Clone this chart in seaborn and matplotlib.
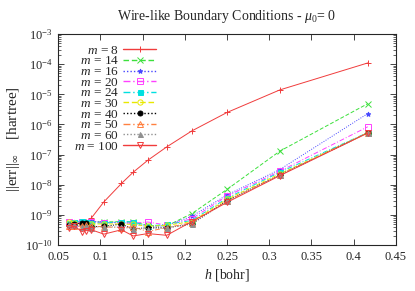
import numpy as np
import pandas as pd
import matplotlib
matplotlib.use("Agg")
import matplotlib.pyplot as plt
import seaborn as sns

# grid spacings [bohr]
h = [0.0625, 0.0694, 0.0781, 0.0833, 0.0893, 0.1042, 0.125, 0.1389,
     0.15625, 0.1786, 0.2083, 0.25, 0.3125, 0.4167]

m_labels = ["8", "14", "16", "20", "24", "30", "40", "50", "60", "100"]

err_m8 = [4.5e-10, 5.0e-10, 5.5e-10, 6.0e-10, 7.8e-10, 2.7e-9, 1.1e-8, 2.6e-8,
          6.5e-8, 1.8e-7, 6.1e-7, 2.5e-6, 1.4e-5, 1.1e-4]
err_m14 = [5.2e-10, 5.5e-10, 5.8e-10, 5.8e-10, 6.0e-10, 5.8e-10, 6.0e-10, 5.8e-10,
           4.5e-10, 4.3e-10, 1.1e-9, 7.0e-9, 1.3e-7, 4.9e-6]
err_m16 = [5.5e-10, 5.8e-10, 6.0e-10, 6.0e-10, 6.2e-10, 5.7e-10, 5.5e-10, 5.3e-10,
           4.0e-10, 4.4e-10, 9.0e-10, 4.6e-9, 3.2e-8, 2.3e-6]
err_m20 = [5.8e-10, 5.5e-10, 5.8e-10, 5.5e-10, 5.8e-10, 5.5e-10, 5.5e-10, 5.3e-10,
           5.8e-10, 4.6e-10, 7.5e-10, 4.2e-9, 2.8e-8, 8.4e-7]
err_m24 = [5.5e-10, 6.0e-10, 6.2e-10, 6.0e-10, 5.5e-10, 5.3e-10, 6.0e-10, 5.8e-10,
           4.3e-10, 4.8e-10, 6.5e-10, 3.6e-9, 2.6e-8, 5.4e-7]
err_m30 = [6.0e-10, 5.5e-10, 4.8e-10, 5.0e-10, 5.0e-10, 5.0e-10, 5.0e-10, 4.8e-10,
           4.2e-10, 4.5e-10, 6.0e-10, 3.3e-9, 2.3e-8, 5.3e-7]
err_m40 = [4.5e-10, 4.8e-10, 5.4e-10, 5.5e-10, 4.0e-10, 4.2e-10, 4.9e-10, 3.4e-10,
           3.8e-10, 3.7e-10, 5.0e-10, 3.0e-9, 2.1e-8, 5.3e-7]
err_m50 = [4.3e-10, 4.3e-10, 4.2e-10, 4.5e-10, 4.3e-10, 4.0e-10, 3.8e-10, 4.0e-10,
           2.8e-10, 3.8e-10, 5.5e-10, 2.9e-9, 2.1e-8, 5.3e-7]
err_m60 = [4.8e-10, 4.5e-10, 4.0e-10, 4.2e-10, 3.8e-10, 4.1e-10, 3.9e-10, 3.5e-10,
           3.5e-10, 3.7e-10, 5.0e-10, 2.8e-9, 2.1e-8, 5.3e-7]
err_m100 = [3.7e-10, 4.2e-10, 2.8e-10, 3.0e-10, 3.2e-10, 2.3e-10, 3.2e-10, 2.0e-10,
            2.4e-10, 2.1e-10, 6.0e-10, 2.6e-9, 2.0e-8, 5.2e-7]

series = [err_m8, err_m14, err_m16, err_m20, err_m24, err_m30, err_m40,
          err_m50, err_m60, err_m100]

colors = ["#f03c3c", "#3ce03c", "#4646ff", "#ff40ff", "#00e0e0", "#e8e800",
          "#000000", "#ff8040", "#909090", "#f03c3c"]
markers = ["+", "x", "*", "s", "s", "o", "o", "^", "^", "v"]
filled = [True, True, True, False, True, False, True, False, True, False]
styles = ["-", (0, (4, 2)), (0, (1, 1.5)), (0, (5, 2, 1, 2)), (0, (5, 2, 1, 2)),
          (0, (4, 2)), (0, (1, 1.5)), (0, (5, 2, 1, 2)), (0, (1, 1.5)), "-"]
msizes = [5, 4.5, 3.5, 3.8, 3.6, 3.8, 3.6, 3.8, 3.6, 3.8]

sns.set_style("ticks")
plt.rcParams["font.family"] = ["Liberation Serif", "DejaVu Serif"]
plt.rcParams["mathtext.fontset"] = "custom"
plt.rcParams["mathtext.rm"] = "Liberation Serif"
plt.rcParams["mathtext.it"] = "Liberation Serif:italic"

fig = plt.figure(figsize=(4.15, 2.91), dpi=100)
ax = fig.add_axes([0.14, 0.158, 0.814, 0.725])

# pad with figure spaces so the labels end up right aligned like gnuplot
fsp = "\u2007"
for lab, vals, c, mk, fl, ls, ms in zip(m_labels, series, colors, markers,
                                        filled, styles, msizes):
    df = pd.DataFrame({"h": h, "err": vals})
    pad = fsp * (3 - len(lab))
    sns.lineplot(data=df, x="h", y="err", ax=ax, color=c, lw=0.7,
                 linestyle=ls, marker=mk, markersize=ms,
                 markeredgewidth=0.7, markeredgecolor=c,
                 markerfacecolor=c if fl else "none",
                 label=pad + r"$m$ = " + lab)

ax.set_yscale("log")
ax.set_xlim(0.05, 0.45)
ax.set_ylim(1e-10, 1e-3)
ax.set_xticks(np.arange(0.05, 0.451, 0.05))
ax.set_xticklabels(["0.05", "0.1", "0.15", "0.2", "0.25", "0.3", "0.35", "0.4", "0.45"])
ax.set_yticks([10.0 ** k for k in range(-10, -2)])
ax.tick_params(which="both", direction="in", top=True, right=True, labelsize=9,
               pad=4)
ax.tick_params(which="major", length=4, width=0.6)
ax.tick_params(which="minor", length=2, width=0.5)
ax.tick_params(axis="x", which="minor", bottom=False, top=False)
for sp in ax.spines.values():
    sp.set_linewidth(0.8)

ax.set_xlabel(r"$h$ [bohr]", fontsize=10, labelpad=3)
ax.set_ylabel(r"||err||$_\infty$    [hartree]", fontsize=11, labelpad=2)
ax.set_title(r"Wire-like Boundary Conditions - $\mu_0$= 0", fontsize=10, pad=10)

leg = ax.legend(loc="upper left", bbox_to_anchor=(0.015, 1.0), frameon=False,
                markerfirst=False, fontsize=9.5, handlelength=2.5,
                labelspacing=-0.12, borderpad=0.3, handletextpad=0.3)
for ln in leg.get_lines():
    ln.set_linewidth(1.0)

fig.savefig("out.png", dpi=100)
